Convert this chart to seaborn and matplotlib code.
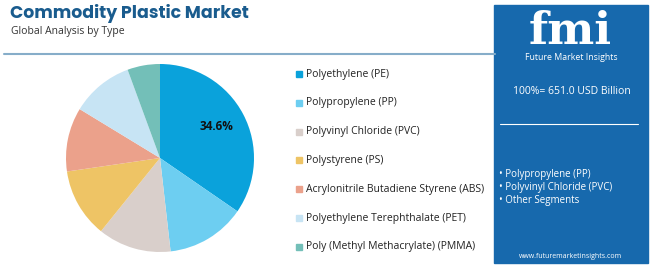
import matplotlib.pyplot as plt
import seaborn as sns
from matplotlib.patches import Rectangle

sns.set_theme(style="white")
plt.rcParams['font.family'] = ['Open Sans', 'DejaVu Sans']

# data
segments = ['Polyethylene (PE)', 'Polypropylene (PP)', 'Polyvinyl Chloride (PVC)',
            'Polystyrene (PS)', 'Acrylonitrile Butadiene Styrene (ABS)',
            'Polyethylene Terephthalate (PET)', 'Poly (Methyl Methacrylate) (PMMA)']
shares = [34.6, 13.6, 12.6, 11.9, 11.0, 10.7, 5.6]
colors = ['#0aa2db', '#6dcef1', '#d9cfcb', '#eec465', '#eba18b', '#c7e4f4', '#73bfb8']
panel_items = ['Polypropylene (PP)', 'Polyvinyl Chloride (PVC)', 'Other Segments']
total_label = '100%= 651.0 USD Billion'

W, H = 650, 269
fig = plt.figure(figsize=(W / 100, H / 100), dpi=100)
fig.patch.set_facecolor('white')

# header
fig.text(10 / W, 1 - 14 / H, 'Commodity Plastic Market', fontsize=12.5, fontweight='bold',
         color='#1a5c8e', va='center', ha='left', family=['Poppins', 'Open Sans', 'DejaVu Sans'])
fig.text(11 / W, 1 - 32 / H, 'Global Analysis by Type', fontsize=7.5, color='#333333',
         va='center', ha='left')
fig.add_artist(plt.Line2D([4 / W, 495 / W], [1 - 54 / H, 1 - 54 / H], color='#86adc9', lw=1.5))

# pie
ax = fig.add_axes([(160 - 94) / W, 1 - (158 + 94) / H, 188 / W, 188 / H])
wedges, _ = ax.pie(shares, colors=colors, startangle=90, counterclock=False,
                   wedgeprops=dict(linewidth=0))
ax.set_xlim(-1, 1)
ax.set_ylim(-1, 1)
ax.set_aspect('equal')
ax.text(0.6, 0.34, f'{shares[0]}%', fontsize=8.5, fontweight='bold', color='#111111',
        ha='center', va='center')

# legend
for i, (name, c) in enumerate(zip(segments, colors)):
    y = 1 - (74 + i * 28.8) / H
    fig.add_artist(Rectangle((296 / W, y - 3 / H), 6 / W, 6 / H, color=c,
                             transform=fig.transFigure))
    fig.text(306 / W, y, name, fontsize=7.5, color='#222222', va='center', ha='left')

# right panel
fig.add_artist(Rectangle((494 / W, 1 - 263 / H), 154 / W, 258 / H, color='#1769ad',
                         transform=fig.transFigure))
fig.text(570 / W, 1 - 44 / H, 'fmi', fontsize=32, fontweight='bold', color='white',
         ha='center', va='baseline', family=['DejaVu Serif'])
fig.text(571 / W, 1 - 57 / H, 'Future Market Insights', fontsize=6.3, color='white',
         ha='center', va='center')
fig.text(572 / W, 1 - 91 / H, total_label, fontsize=7.5, color='white', ha='center', va='center')
fig.add_artist(plt.Line2D([500 / W, 638 / W], [1 - 124 / H, 1 - 124 / H], color='white', lw=0.8))
for i, item in enumerate(panel_items):
    fig.text(499 / W, 1 - (174 + i * 13.5) / H, '\u2022 ' + item, fontsize=7, color='white',
             ha='left', va='center')
fig.text(570 / W, 1 - 257 / H, 'www.futuremarketinsights.com', fontsize=5, color='white',
         ha='center', va='center')

fig.savefig('out.png', dpi=100)
